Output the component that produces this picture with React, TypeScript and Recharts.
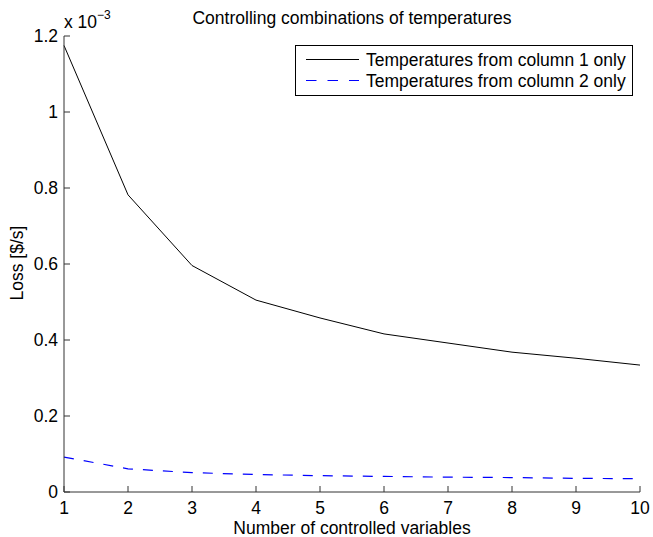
import React from 'react';
import { LineChart, Line, XAxis, YAxis } from 'recharts';

// number of controlled variables on the x axis
const controlledVars = [1, 2, 3, 4, 5, 6, 7, 8, 9, 10];
// loss in units of 1e-3 $/s
const lossColumn1 = [1.175, 0.782, 0.596, 0.505, 0.458, 0.416, 0.392, 0.368, 0.352, 0.334];
const lossColumn2 = [0.092, 0.061, 0.051, 0.046, 0.043, 0.041, 0.039, 0.038, 0.036, 0.035];
const yTicks = [0, 0.2, 0.4, 0.6, 0.8, 1, 1.2];

const seriesNames = ['Temperatures from column 1 only', 'Temperatures from column 2 only'];
const seriesColors = ['#000000', '#0000ff'];
const seriesDash = [undefined, '10 10'];

const data = controlledVars.map((n, i) => ({
  n,
  col1: lossColumn1[i],
  col2: lossColumn2[i],
}));

const FONT = '"Liberation Sans", Arial, Helvetica, sans-serif';
const FS = 17.5;
const AXIS = '#333';

// ticks point inward, like the plotting tool this mimics
const XTick = (props: any) => {
  const { x, y, payload } = props;
  return (
    <g>
      <line x1={x} x2={x} y1={y} y2={y - 6} stroke={AXIS} />
      <text x={x} y={y + 22} textAnchor="middle" fontSize={FS} fill="#000">
        {payload.value}
      </text>
    </g>
  );
};

const YTick = (props: any) => {
  const { x, y, payload } = props;
  return (
    <g>
      <line x1={x} x2={x + 6} y1={y} y2={y} stroke={AXIS} />
      <text x={x - 6} y={y + 6} textAnchor="end" fontSize={FS} fill="#000">
        {String(payload.value)}
      </text>
    </g>
  );
};

// boxed legend in the upper right corner of the axes
const LegendBox = () => (
  <g>
    <rect x={295.5} y={45.5} width={337} height={50} fill="#fff" stroke="#000" />
    {seriesNames.map((name, i) => {
      const cy = 59.5 + i * 21;
      return (
        <g key={name}>
          <line
            x1={306}
            x2={359}
            y1={cy}
            y2={cy}
            stroke={seriesColors[i]}
            strokeWidth={1.2}
            strokeDasharray={i === 0 ? undefined : '10.5 11'}
          />
          <text x={366} y={cy + 6} fontSize={FS} fill="#000">
            {name}
          </text>
        </g>
      );
    })}
  </g>
);

export default function App() {
  return (
    <div style={{ position: 'absolute', left: 0, top: 0, fontFamily: FONT, background: '#fff' }}>
      <LineChart
        width={653}
        height={537}
        data={data}
        margin={{ top: 36, right: 13, bottom: 0, left: 14 }}
      >
        <XAxis
          dataKey="n"
          type="number"
          domain={[1, 10]}
          ticks={controlledVars}
          height={45}
          tickSize={0}
          tickMargin={0}
          tickLine={false}
          tick={XTick}
          axisLine={{ stroke: AXIS }}
        />
        <YAxis
          type="number"
          domain={[0, 1.2]}
          ticks={yTicks}
          width={50}
          tickSize={0}
          tickMargin={0}
          tickLine={false}
          tick={YTick}
          axisLine={{ stroke: AXIS }}
        />
        <Line
          dataKey="col1"
          name={seriesNames[0]}
          stroke={seriesColors[0]}
          strokeWidth={1}
          dot={false}
          isAnimationActive={false}
        />
        <Line
          dataKey="col2"
          name={seriesNames[1]}
          stroke={seriesColors[1]}
          strokeWidth={1.2}
          strokeDasharray={seriesDash[1]}
          dot={false}
          isAnimationActive={false}
        />
        <LegendBox />
        <text x={352} y={24} textAnchor="middle" fontSize={FS} fill="#000">
          Controlling combinations of temperatures
        </text>
        <text x={64} y={28} fontSize={FS} fill="#000">
          x 10
          <tspan dy={-9} fontSize={12}>−3</tspan>
        </text>
        <text x={352} y={534} textAnchor="middle" fontSize={FS} fill="#000">
          Number of controlled variables
        </text>
        <text
          x={23}
          y={263}
          textAnchor="middle"
          fontSize={FS}
          fill="#000"
          transform="rotate(-90 23 263)"
        >
          Loss [$/s]
        </text>
      </LineChart>
    </div>
  );
}
